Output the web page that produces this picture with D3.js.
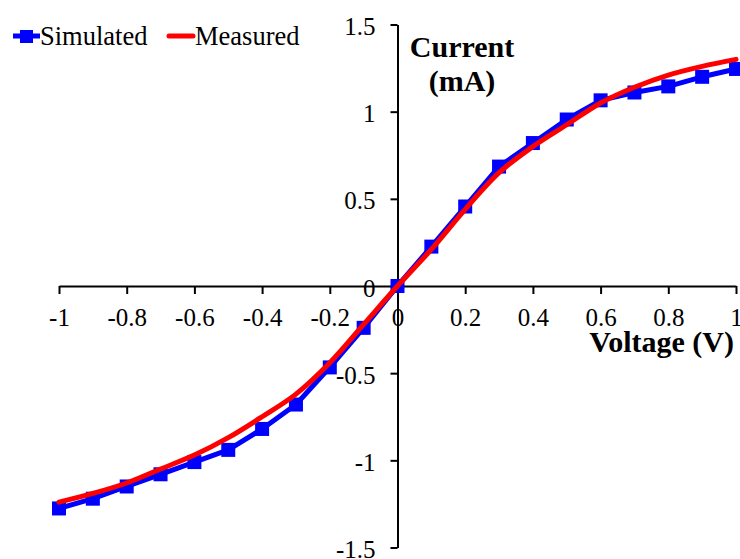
<!DOCTYPE html>
<html>
<head>
<meta charset="utf-8">
<script src="https://cdn.jsdelivr.net/npm/d3@7"></script>
<style>
  html, body { margin: 0; padding: 0; background: #fff; }
  svg text { font-family: 'Liberation Serif', 'Times New Roman', serif; fill: #000; }
</style>
</head>
<body>
<div id="chart"></div>
<script>
// Voltage steps (V)
const voltage = [-1, -0.9, -0.8, -0.7, -0.6, -0.5, -0.4, -0.3, -0.2, -0.1, 0,
                 0.1, 0.2, 0.3, 0.4, 0.5, 0.6, 0.7, 0.8, 0.9, 1];
// Simulated current (mA)
const simulated = [-1.276, -1.22, -1.15, -1.08, -1.01, -0.94, -0.82, -0.68, -0.467, -0.24, 0,
                   0.226, 0.456, 0.685, 0.82, 0.955, 1.065, 1.11, 1.145, 1.20, 1.245];
// Measured current (mA)
const measured = [-1.24, -1.19, -1.13, -1.05, -0.97, -0.87, -0.75, -0.62, -0.44, -0.22, 0,
                  0.21, 0.44, 0.65, 0.80, 0.925, 1.05, 1.14, 1.21, 1.26, 1.30];

const xTicks = [-1, -0.8, -0.6, -0.4, -0.2, 0, 0.2, 0.4, 0.6, 0.8, 1];
const yTicks = [-1.5, -1, -0.5, 0, 0.5, 1, 1.5];

const W = 740, H = 559;

const svg = d3.select('#chart').append('svg')
  .attr('width', W).attr('height', H);

const x = d3.scaleLinear().domain([-1, 1]).range([59, 736]);
const y = d3.scaleLinear().domain([-1.5, 1.5]).range([547.5, 24.5]);

const x0 = x(0), y0 = y(0);

// X axis through origin
const xAxis = svg.append('g')
  .attr('transform', `translate(0,${y0})`)
  .call(d3.axisBottom(x).tickValues(xTicks).tickSize(8).tickSizeOuter(0).tickFormat(d => d));
xAxis.select('.domain').attr('stroke', '#000').attr('stroke-width', 2);
xAxis.selectAll('.tick line').attr('stroke', '#000').attr('stroke-width', 2);
xAxis.selectAll('.tick text')
  .attr('y', 22).attr('dy', '0.71em')
  .style('font-size', '25px');

// Y axis through origin
const yAxis = svg.append('g')
  .attr('transform', `translate(${x0},0)`)
  .call(d3.axisLeft(y).tickValues(yTicks).tickSize(7).tickSizeOuter(0).tickFormat(d => d));
yAxis.select('.domain').attr('stroke', '#000').attr('stroke-width', 2);
yAxis.selectAll('.tick line').attr('stroke', '#000').attr('stroke-width', 2);
yAxis.selectAll('.tick text')
  .attr('x', -22).attr('dy', '0.4em')
  .style('font-size', '25px');

// Axis titles
svg.append('text')
  .attr('x', 462).attr('y', 57)
  .attr('text-anchor', 'middle')
  .style('font-size', '30px').style('font-weight', 'bold')
  .text('Current');
svg.append('text')
  .attr('x', 462).attr('y', 91)
  .attr('text-anchor', 'middle')
  .style('font-size', '30px').style('font-weight', 'bold')
  .text('(mA)');
svg.append('text')
  .attr('x', 734).attr('y', 352)
  .attr('text-anchor', 'end')
  .style('font-size', '30px').style('font-weight', 'bold')
  .text('Voltage (V)');

// Simulated series
const simData = voltage.map((v, i) => ({ v, c: simulated[i] }));
const measData = voltage.map((v, i) => ({ v, c: measured[i] }));

const lineStraight = d3.line().x(d => x(d.v)).y(d => y(d.c));
const lineSmooth = d3.line().x(d => x(d.v)).y(d => y(d.c)).curve(d3.curveCatmullRom.alpha(0.5));

svg.append('path')
  .datum(simData)
  .attr('d', lineStraight)
  .attr('fill', 'none')
  .attr('stroke', '#0000ff')
  .attr('stroke-width', 5)
  .attr('stroke-linejoin', 'round');

const sq = 14;
svg.selectAll('.sim-pt')
  .data(simData)
  .enter().append('rect')
  .attr('class', 'sim-pt')
  .attr('x', d => x(d.v) - sq / 2)
  .attr('y', d => y(d.c) - sq / 2)
  .attr('width', sq).attr('height', sq)
  .attr('fill', '#0000ff');

// Measured series
svg.append('path')
  .datum(measData)
  .attr('d', lineSmooth)
  .attr('fill', 'none')
  .attr('stroke', '#ff0000')
  .attr('stroke-width', 5)
  .attr('stroke-linecap', 'round');

// Legend
const legend = svg.append('g');
legend.append('line')
  .attr('x1', 13).attr('x2', 40).attr('y1', 36).attr('y2', 36)
  .attr('stroke', '#0000ff').attr('stroke-width', 5);
legend.append('rect')
  .attr('x', 20).attr('y', 30).attr('width', 13).attr('height', 13)
  .attr('fill', '#0000ff');
legend.append('text')
  .attr('x', 40).attr('y', 45)
  .style('font-size', '26.5px')
  .text('Simulated');
legend.append('line')
  .attr('x1', 169).attr('x2', 193).attr('y1', 36).attr('y2', 36)
  .attr('stroke', '#ff0000').attr('stroke-width', 5).attr('stroke-linecap', 'round');
legend.append('text')
  .attr('x', 195).attr('y', 45)
  .style('font-size', '26.5px')
  .text('Measured');
</script>
</body>
</html>
